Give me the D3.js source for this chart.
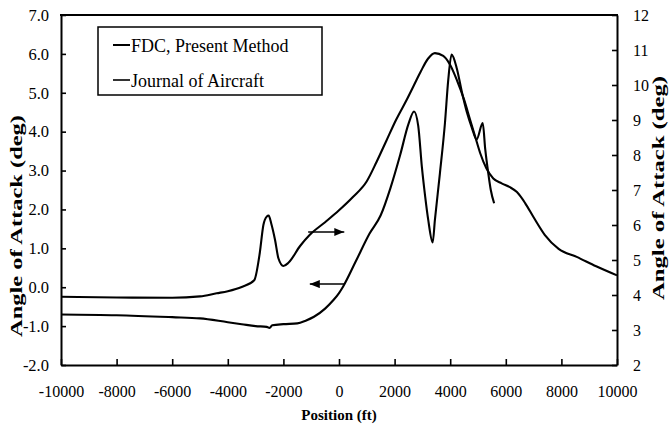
<!DOCTYPE html>
<html>
<head>
<meta charset="utf-8">
<script src="https://cdn.jsdelivr.net/npm/d3@7/dist/d3.min.js"></script>
<style>
  html, body { margin: 0; padding: 0; background: #fff; }
  svg { display: block; }
</style>
</head>
<body>
<svg id="chart" width="671" height="433"></svg>
<script>
const SERIF = "'Liberation Serif', 'Times New Roman', Times, serif";

// Position along the track (ft)
const xTicks = [-10000, -8000, -6000, -4000, -2000, 0, 2000, 4000, 6000, 8000, 10000];
const xTickLabels = ["-10000", "-8000", "-6000", "-4000", "-2000", "0", "2000", "4000", "6000", "8000", "10000"];

// Left axis: angle of attack (deg)
const leftTicks = [-2, -1, 0, 1, 2, 3, 4, 5, 6, 7];
const leftTickLabels = ["-2.0", "-1.0", "0.0", "1.0", "2.0", "3.0", "4.0", "5.0", "6.0", "7.0"];

// Right axis: angle of attack (deg)
const rightTicks = [2, 3, 4, 5, 6, 7, 8, 9, 10, 11, 12];
const rightTickLabels = ["2", "3", "4", "5", "6", "7", "8", "9", "10", "11", "12"];

const seriesNames = ["FDC, Present Method", "Journal of Aircraft"];

// FDC, Present Method — read against the right axis
const fdcPosition = [-10000, -8000, -6000, -5000, -4400, -4000, -3500, -3050, -2850, -2720, -2600, -2530, -2440, -2300, -2180, -2000,
  -1820, -1400, -1050, -500, 0, 500, 1000, 1350, 1700, 2050, 2450, 2700, 2950, 3200, 3450, 3750, 4000, 4250, 4500,
  4700, 4900, 5080, 5300, 5550, 5850, 6150, 6400, 6700, 7000, 7400, 7900, 8550, 9250, 10000];
const fdcAngle = [3.95, 3.93, 3.92, 3.96, 4.05, 4.11, 4.23, 4.42, 5.2, 6.0, 6.24, 6.27, 6.05, 5.57, 5.05, 4.83,
  4.92, 5.4, 5.72, 6.08, 6.42, 6.8, 7.25, 7.8, 8.4, 9.0, 9.6, 10.0, 10.4, 10.75, 10.91, 10.83, 10.57, 10.12, 9.58,
  9.05, 8.52, 8.05, 7.62, 7.33, 7.19, 7.08, 6.94, 6.62, 6.22, 5.72, 5.32, 5.09, 4.82, 4.56];

// Journal of Aircraft — read against the left axis
const joaPosition = [-10000, -8000, -6000, -5000, -4000, -3500, -3000, -2600, -2500, -2400, -2000, -1500, -1200, -900, -500,
  -200, 0, 150, 600, 1100, 1500, 1850, 2200, 2500, 2700, 2850, 2980, 3100, 3210, 3370, 3450, 3630, 3810, 3930,
  4050, 4240, 4420, 4600, 4780, 4950, 5170, 5260, 5370, 5460, 5580];
const joaAngle = [-0.70, -0.72, -0.77, -0.80, -0.90, -0.95, -1.00, -1.02, -1.05, -0.98, -0.95, -0.93, -0.86, -0.76, -0.55,
  -0.33, -0.15, 0.02, 0.66, 1.38, 1.85, 2.55, 3.4, 4.2, 4.52, 4.15, 3.1, 2.33, 1.73, 1.15, 1.73, 2.93, 4.21, 5.33,
  5.98, 5.62, 5.02, 4.5, 4.1, 3.8, 4.22, 3.55, 2.93, 2.5, 2.16];

// Arrows pointing each curve to its axis
const arrowFrom = [-1110, 200];
const arrowTo = [190, -1050];
const arrowLevel = [5.8, 0.08];
const arrowAxis = ["right", "left"];

const svg = d3.select("#chart");
const plot = { left: 61, right: 617, top: 15, bottom: 365 };

const x = d3.scaleLinear().domain([-10000, 10000]).range([plot.left, plot.right]);
const yL = d3.scaleLinear().domain([-2, 7]).range([plot.bottom, plot.top]);
const yR = d3.scaleLinear().domain([2, 12]).range([plot.bottom, plot.top]);

// Arrowhead
svg.append("defs").append("marker")
  .attr("id", "head")
  .attr("markerUnits", "userSpaceOnUse")
  .attr("viewBox", "0 0 10 8")
  .attr("refX", 10).attr("refY", 4)
  .attr("markerWidth", 10).attr("markerHeight", 8)
  .attr("orient", "auto")
  .append("path").attr("d", "M0,0L10,4L0,8Z").attr("fill", "#000");

// Axes
function styleAxis(size) {
  return g => {
    g.attr("font-family", null).attr("font-size", null);
    g.select(".domain").attr("stroke", "#000").attr("stroke-width", 2);
    g.selectAll(".tick line").attr("stroke", "#000").attr("stroke-width", 1.6);
    g.selectAll(".tick text")
      .style("font-family", SERIF).style("font-size", size + "px").attr("fill", "#000");
  };
}

svg.append("g")
  .attr("transform", `translate(${plot.left},0)`)
  .call(d3.axisLeft(yL).tickValues(leftTicks).tickFormat((d, i) => leftTickLabels[i])
    .tickSizeInner(-5).tickSizeOuter(0).tickPadding(12))
  .call(styleAxis(16.5));

svg.append("g")
  .attr("transform", `translate(${plot.right},0)`)
  .call(d3.axisRight(yR).tickValues(rightTicks).tickFormat((d, i) => rightTickLabels[i])
    .tickSizeInner(-5).tickSizeOuter(0).tickPadding(16))
  .call(styleAxis(16));

svg.append("g")
  .attr("transform", `translate(0,${plot.bottom})`)
  .call(d3.axisBottom(x).tickValues(xTicks).tickFormat((d, i) => xTickLabels[i])
    .tickSizeInner(-6).tickSizeOuter(0).tickPadding(21))
  .call(styleAxis(16));

// Top border of the frame
svg.append("line")
  .attr("x1", plot.left - 1).attr("x2", plot.right + 1)
  .attr("y1", plot.top).attr("y2", plot.top)
  .attr("stroke", "#000").attr("stroke-width", 2);

// Curves
const fdcLine = d3.line().x(d => x(d[0])).y(d => yR(d[1])).curve(d3.curveMonotoneX);
const joaLine = d3.line().x(d => x(d[0])).y(d => yL(d[1])).curve(d3.curveMonotoneX);

svg.append("path")
  .datum(d3.zip(fdcPosition, fdcAngle))
  .attr("d", fdcLine)
  .attr("fill", "none").attr("stroke", "#000").attr("stroke-width", 2.1)
  .attr("stroke-linejoin", "round");

svg.append("path")
  .datum(d3.zip(joaPosition, joaAngle))
  .attr("d", joaLine)
  .attr("fill", "none").attr("stroke", "#000").attr("stroke-width", 2.1)
  .attr("stroke-linejoin", "round");

// Arrows
arrowFrom.forEach((a, i) => {
  const ys = arrowAxis[i] === "right" ? yR : yL;
  svg.append("line")
    .attr("x1", x(a)).attr("x2", x(arrowTo[i]))
    .attr("y1", ys(arrowLevel[i])).attr("y2", ys(arrowLevel[i]))
    .attr("stroke", "#000").attr("stroke-width", 1.5)
    .attr("marker-end", "url(#head)");
});

// Axis titles
function title(sel) {
  return sel.style("font-family", SERIF).style("font-weight", "bold").attr("fill", "#000");
}

svg.append("text")
  .attr("transform", "translate(22,226) rotate(-90)")
  .attr("text-anchor", "middle")
  .style("font-size", "17px")
  .attr("textLength", 222).attr("lengthAdjust", "spacingAndGlyphs")
  .call(title)
  .text("Angle of Attack (deg)");

svg.append("text")
  .attr("transform", "translate(664,188) rotate(-90)")
  .attr("text-anchor", "middle")
  .style("font-size", "17px")
  .attr("textLength", 224).attr("lengthAdjust", "spacingAndGlyphs")
  .call(title)
  .text("Angle of Attack (deg)");

svg.append("text")
  .attr("x", (plot.left + plot.right) / 2).attr("y", 420)
  .attr("text-anchor", "middle")
  .style("font-size", "15px")
  .call(title)
  .text("Position (ft)");

// Legend
const legend = svg.append("g");
legend.append("rect")
  .attr("x", 98).attr("y", 27).attr("width", 224).attr("height", 68)
  .attr("fill", "#fff").attr("stroke", "#000").attr("stroke-width", 1.5);

const legendRows = [45, 80];
seriesNames.forEach((name, i) => {
  legend.append("line")
    .attr("x1", 113).attr("x2", 130)
    .attr("y1", legendRows[i]).attr("y2", legendRows[i])
    .attr("stroke", "#000").attr("stroke-width", i === 0 ? 2 : 1.6);
  legend.append("text")
    .attr("x", 131).attr("y", legendRows[i] + 6.5)
    .style("font-family", SERIF).style("font-size", "18px").attr("fill", "#000")
    .text(name);
});
</script>
</body>
</html>
